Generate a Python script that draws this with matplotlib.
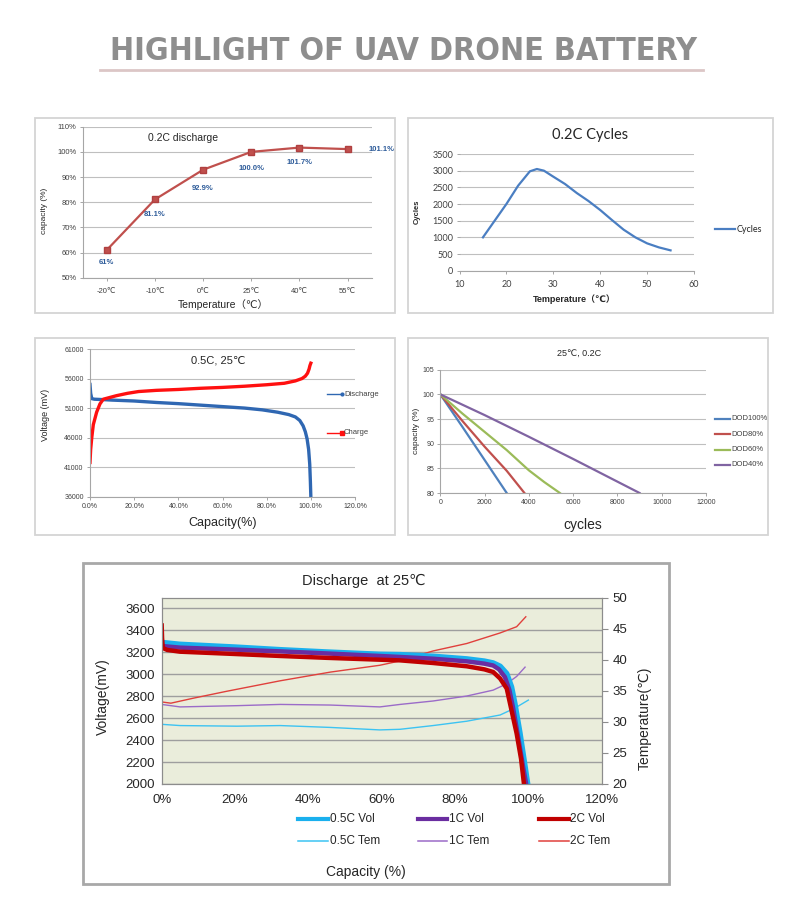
import matplotlib
matplotlib.use('Agg')
import matplotlib.pyplot as plt
from matplotlib.lines import Line2D
from matplotlib.patches import Rectangle
from matplotlib import font_manager as fm

# ---------------- data ----------------
# Panel 1: capacity vs temperature (0.2C discharge)
temp_labels1 = ['-20℃', '-10℃', '0℃', '25℃', '40℃', '55℃']
capacity1 = [61.0, 81.1, 92.9, 100.0, 101.7, 101.1]
cap_text1 = ['61%', '81.1%', '92.9%', '100.0%', '101.7%', '101.1%']

# Panel 2: cycles vs temperature
temp2 = [15, 17.5, 20, 22.5, 25, 26.5, 28, 30, 32.5, 35, 37.5, 40, 42.5, 45, 47.5, 50, 52.5, 55]
cycles2 = [1000, 1500, 2000, 2550, 2980, 3050, 3000, 2820, 2600, 2330, 2090, 1820, 1520, 1230, 1000, 820, 700, 610]

# Panel 3: 0.5C, 25C voltage curves (capacity in %)
dis_cap = [0.0, 0.3, 0.8, 2, 5, 10, 20, 30, 40, 50, 60, 70, 78, 85, 90, 93, 95, 96.5, 97.5, 98.3, 99, 99.5, 99.8, 100.0]
dis_v = [55000, 53500, 52600, 52500, 52450, 52350, 52200, 51950, 51750, 51500, 51250, 51000, 50700, 50300, 49900, 49500, 48900, 48000, 47000, 45800, 44000, 41500, 38500, 36000]
chg_cap = [0.0, 0.3, 0.8, 1.5, 3, 4.5, 6, 9, 12, 17, 22, 30, 40, 50, 60, 70, 80, 88, 93, 96, 97.5, 98.5, 99.2, 99.6, 100.0]
chg_v = [41800, 44000, 46000, 48200, 50300, 51700, 52500, 52800, 53100, 53500, 53800, 54000, 54150, 54350, 54500, 54700, 54950, 55200, 55600, 56000, 56400, 56900, 57600, 58200, 58600]

# Panel 4: capacity vs cycles for different DOD
dod_names = ['DOD100%', 'DOD80%', 'DOD60%', 'DOD40%']
dod_cycles = [
    [0, 1000, 2000, 3000],
    [0, 1000, 2000, 3000, 3800],
    [0, 1000, 2000, 3000, 4000, 4700, 5400],
    [0, 2000, 4000, 6000, 8000, 9000],
]
dod_capacity = [
    [100, 93.4, 86.7, 80],
    [100, 94.6, 89.4, 84.5, 80],
    [100, 96.1, 92.4, 88.7, 84.6, 82.2, 80],
    [100, 95.8, 91.4, 86.9, 82.3, 80],
]

# Panel 5: discharge at 25C
v05_cap = [0, 5, 20, 32.3, 45, 59.5, 65, 74, 83.2, 88, 90.4, 92.3, 94.1, 95.4, 96.3, 97.7, 99.1, 99.8]
v05_mv = [3290, 3273, 3248, 3224, 3203, 3182, 3179, 3164, 3140, 3120, 3103, 3073, 3006, 2885, 2736, 2464, 2158, 2000]
v1_cap = [0, 5, 20, 32.3, 45, 59.5, 65, 74, 83.2, 88, 90.4, 92.0, 93.6, 94.8, 95.8, 97.2, 98.6, 99.4]
v1_mv = [3258, 3243, 3225, 3209, 3190, 3167, 3158, 3142, 3118, 3097, 3080, 3045, 2975, 2860, 2700, 2430, 2150, 2000]
v2_cap = [0, 0.1, 0.3, 1.5, 5, 20, 32.3, 45, 59.5, 65, 74, 83.2, 88, 90.4, 92.3, 94.1, 95.0, 96.8, 98.0, 98.8]
v2_mv = [3445, 3330, 3240, 3222, 3206, 3185, 3167, 3150, 3133, 3127, 3103, 3073, 3045, 3021, 2961, 2870, 2733, 2460, 2230, 2000]
t05_cap = [0, 5, 20.5, 32.3, 46, 59.5, 65, 74, 83.2, 92.3, 96.3, 100.0]
t05_c = [29.6, 29.4, 29.3, 29.4, 29.1, 28.7, 28.8, 29.4, 30.1, 31.1, 32.2, 33.5]
t1_cap = [0, 5, 20.5, 32.3, 46, 59.5, 65, 74, 83.2, 90.4, 94.0, 96.8, 99.1]
t1_c = [32.8, 32.4, 32.6, 32.8, 32.7, 32.4, 32.8, 33.35, 34.15, 35.1, 36.1, 37.3, 38.8]
t2_cap = [0, 2.5, 8.6, 17.6, 32.3, 46, 59.5, 65, 74, 83.2, 92.3, 96.8, 99.3]
t2_c = [33.2, 33.0, 33.8, 34.9, 36.6, 38.0, 39.1, 39.8, 41.4, 42.6, 44.3, 45.3, 46.9]
series5_names = ['0.5C Vol', '1C Vol', '2C Vol', '0.5C Tem', '1C Tem', '2C Tem']

# ---------------- layout helpers ----------------
W, H = 800, 906
fig = plt.figure(figsize=(8, 9.06), dpi=100)
FONTS = ['Liberation Sans', 'DejaVu Sans', 'Noto Sans CJK SC']
plt.rcParams['font.family'] = FONTS


def R(x0, y0, x1, y1):
    return [x0 / W, 1 - y1 / H, (x1 - x0) / W, (y1 - y0) / H]


def FX(x):
    return x / W


def FY(y):
    return 1 - y / H


def box(x0, y0, x1, y1, ec='#D4D4D4', lw=1.3):
    fig.add_artist(Rectangle((FX(x0), FY(y1)), (x1 - x0) / W, (y1 - y0) / H,
                             transform=fig.transFigure, fill=False, ec=ec, lw=lw))


def ftext(x, y, s, **kw):
    kw.setdefault('ha', 'center')
    kw.setdefault('va', 'center')
    return fig.text(FX(x), FY(y), s, **kw)


def legline(x0, x1, y, **kw):
    fig.add_artist(Line2D([FX(x0), FX(x1)], [FY(y), FY(y)], transform=fig.transFigure, **kw))


def style_axes(ax, tick_size, tick_color='#404040', grid_color='#BFBFBF'):
    ax.set_facecolor('white')
    for s in ['top', 'right']:
        ax.spines[s].set_visible(False)
    for s in ['left', 'bottom']:
        ax.spines[s].set_color('#A6A6A6')
        ax.spines[s].set_linewidth(0.8)
    ax.yaxis.grid(True, color=grid_color, lw=0.8)
    ax.set_axisbelow(True)
    ax.tick_params(labelsize=tick_size, colors='#A6A6A6', labelcolor=tick_color,
                   length=2.5, width=0.7, pad=2)


def find_narrow():
    cands = [dict(family='Liberation Sans Narrow', weight='bold'),
             dict(family='DejaVu Sans', weight='bold', stretch='condensed')]
    for c in cands:
        try:
            p = fm.findfont(fm.FontProperties(**c), fallback_to_default=False)
            low = p.lower()
            if 'narrow' in low or 'condensed' in low:
                return c
        except Exception:
            pass
    return dict(family='Liberation Sans', weight='bold')


# ---------------- title ----------------
tprops = find_narrow()
title = ftext(404, 51, 'HIGHLIGHT OF UAV DRONE BATTERY', fontsize=27, color='#8E8E8E', **tprops)
fig.canvas.draw()
tw = title.get_window_extent().width
target_w = 588
if tw > target_w:
    title.set_fontsize(27 * target_w / tw)
legline(100, 703, 70, color='#DCC6C6', lw=2)

# ---------------- panel 1 ----------------
box(34.7, 118.3, 395, 312.7)
ax1 = fig.add_axes(R(82.7, 126.7, 371.7, 277.7))
style_axes(ax1, 5.5)
xs1 = list(range(len(capacity1)))
ax1.plot(xs1, capacity1, color='#C0504D', lw=1.6, marker='s', ms=4, mfc='#C0504D', mec='#B04040')
ax1.set_xlim(-0.5, len(capacity1) - 0.5)
ax1.set_ylim(50, 110)
ax1.set_yticks(range(50, 111, 10))
ax1.set_yticklabels([f'{v}%' for v in range(50, 111, 10)])
ax1.set_xticks(xs1)
ax1.set_xticklabels(temp_labels1)
ax1.tick_params(axis='x', pad=5)
lab_off = [(0, -12), (0, -15), (0, -19), (0, -17), (0, -15), (21, 0)]
for x, y, t, (dx, dy) in zip(xs1, capacity1, cap_text1, lab_off):
    ax1.annotate(t, (x, y), xytext=(dx, dy), textcoords='offset pixels', ha='left' if dx else 'center',
                 va='center', fontsize=5.5, fontweight='bold', color='#2E5C9A')
ftext(183, 138, '0.2C discharge', fontsize=7.5, color='#262626')
ftext(45, 211, 'capacity (%)', fontsize=6, rotation=90, color='#262626')
ftext(223, 305, 'Temperature（℃）', fontsize=7.5, color='#262626')

# ---------------- panel 2 ----------------
box(407.7, 118.3, 773, 312.7)
ax2 = fig.add_axes(R(459.5, 154, 694, 270.7))
style_axes(ax2, 6.5, tick_color='#404040')
ax2.spines['left'].set_visible(False)
ax2.plot(temp2, cycles2, color='#4A7EC2', lw=1.6)
ax2.set_xlim(10, 60)
ax2.set_ylim(0, 3500)
ax2.set_xticks(range(10, 61, 10))
ax2.set_yticks(range(0, 3501, 500))
ax2.tick_params(axis='x', pad=4)
for lab in ax2.get_xticklabels() + ax2.get_yticklabels():
    lab.set_family(['Lato', 'Liberation Sans'])
ftext(590, 135, '0.2C Cycles', fontsize=10.5, color='#262626', family=['Lato', 'Liberation Sans'])
ftext(417.7, 212, 'Cycles', fontsize=5.5, fontweight='bold', rotation=90, color='#262626')
ftext(574, 299, 'Temperature（℃）', fontsize=6.5, fontweight='bold', color='#262626')
legline(715, 735, 229.3, color='#4A7EC2', lw=1.6)
ftext(737, 229.3, 'Cycles', fontsize=6.5, ha='left', color='#262626', family=['Lato', 'Liberation Sans'])

# ---------------- panel 3 ----------------
box(34.7, 338.3, 395, 535)
ax3 = fig.add_axes(R(90, 349, 355, 496.7))
style_axes(ax3, 5)
ax3.plot([c / 100 for c in dis_cap], dis_v, color='#2F67B2', lw=2.4)
ax3.plot([c / 100 for c in chg_cap], chg_v, color='#FF1010', lw=2.4)
ax3.set_xlim(0, 1.2)
ax3.set_ylim(36000, 61000)
xt3 = [0, 0.2, 0.4, 0.6, 0.8, 1.0, 1.2]
ax3.set_xticks(xt3)
ax3.set_xticklabels([f'{v * 100:.1f}%' for v in xt3])
ax3.set_yticks(range(36000, 61001, 5000))
ftext(218, 361, '0.5C, 25℃', fontsize=8, color='#262626')
ftext(45, 415, 'Voltage (mV)', fontsize=6.5, rotation=90, color='#262626')
ftext(222.5, 523, 'Capacity(%)', fontsize=9, color='#262626')
legline(327, 342, 394, color='#2F67B2', lw=1.0, marker='o', ms=2, markevery=[1])
ftext(344, 394, 'Discharge', fontsize=5.5, ha='left', color='#404040')
legline(327, 342, 433, color='#FF1010', lw=1.0, marker='s', ms=2.5, markevery=[1])
ftext(344, 433, 'Charge', fontsize=5.5, ha='left', color='#404040')

# ---------------- panel 4 ----------------
box(407.7, 338.3, 768, 535)
ax4 = fig.add_axes(R(440.3, 369.7, 706, 493))
style_axes(ax4, 5)
dod_colors = ['#4F81BD', '#C0504D', '#9BBB59', '#8064A2']
for cyc, cap, col in zip(dod_cycles, dod_capacity, dod_colors):
    ax4.plot(cyc, cap, color=col, lw=1.6)
ax4.set_xlim(0, 12000)
ax4.set_ylim(80, 105)
ax4.set_xticks(range(0, 12001, 2000))
ax4.set_yticks(range(80, 106, 5))
ftext(579, 353, '25℃, 0.2C', fontsize=6.5, color='#262626')
ftext(416.7, 431, 'capacity (%)', fontsize=6, rotation=90, color='#262626')
ftext(583, 524.5, 'cycles', fontsize=10, color='#262626')
for name, col, yy in zip(dod_names, dod_colors, [418.7, 434, 449.7, 465]):
    legline(715, 730, yy, color=col, lw=1.6)
    ftext(731, yy, name, fontsize=5.5, ha='left', color='#404040')

# ---------------- panel 5 ----------------
box(83, 563, 669, 883.5, ec='#A8A8A8', lw=2)
ax5 = fig.add_axes(R(161.7, 597.5, 601.7, 784))
ax5.set_facecolor('#EAEDDB')
for s in ax5.spines.values():
    s.set_color('#8C8C8C')
    s.set_linewidth(0.8)
ax5.yaxis.grid(True, color='#9E9E9E', lw=1.0)
ax5.set_axisbelow(True)
ax5.set_xlim(0, 1.2)
ax5.set_ylim(2000, 3700)
ax5.set_yticks(range(2000, 3601, 200))
xt5 = [0, 0.2, 0.4, 0.6, 0.8, 1.0, 1.2]
ax5.set_xticks(xt5)
ax5.set_xticklabels([f'{int(round(v * 100))}%' for v in xt5])
ax5.tick_params(labelsize=9.5, colors='#8C8C8C', labelcolor='#262626', length=0, pad=7)
ax5.tick_params(axis='y', length=0, pad=5)
ax6 = ax5.twinx()
ax6.set_ylim(20, 50)
ax6.set_yticks(range(20, 51, 5))
ax6.tick_params(labelsize=9.5, colors='#8C8C8C', labelcolor='#262626', length=4, width=0.8, pad=4)
for s in ax6.spines.values():
    s.set_color('#8C8C8C')
    s.set_linewidth(0.8)
ax6.set_zorder(ax5.get_zorder() + 1)
ax6.patch.set_visible(False)

ax6.plot([c / 100 for c in t05_cap], t05_c, color='#3CC3F2', lw=1.0)
ax6.plot([c / 100 for c in t1_cap], t1_c, color='#9B6BC8', lw=1.0)
ax6.plot([c / 100 for c in t2_cap], t2_c, color='#E0403C', lw=1.0)
vt = ax5.transData
ax6.plot([c / 100 for c in v05_cap], v05_mv, color='#1AB0EE', lw=4.0, transform=vt)
ax6.plot([c / 100 for c in v1_cap], v1_mv, color='#6A2DA0', lw=3.2, transform=vt)
ax6.plot([c / 100 for c in v2_cap], v2_mv, color='#C00000', lw=3.2, transform=vt)

ftext(364, 581, 'Discharge  at 25℃', fontsize=10.5, color='#262626')
ftext(103, 697, 'Voltage(mV)', fontsize=10, rotation=90, color='#262626')
ftext(645, 718, 'Temperature(℃)', fontsize=10, rotation=90, color='#262626')
ftext(366, 872, 'Capacity (%)', fontsize=10, color='#262626')

leg_cols = [(298, 328), (418, 447), (539, 569)]
vol_colors = ['#1AB0EE', '#6A2DA0', '#C00000']
tem_colors = ['#3CC3F2', '#9B6BC8', '#E0403C']
for i, (x0, x1) in enumerate(leg_cols):
    legline(x0, x1, 818.6, color=vol_colors[i], lw=3)
    ftext(x1 + 1.5, 818.6, series5_names[i], fontsize=8.5, ha='left', color='#262626')
    legline(x0, x1, 841.4, color=tem_colors[i], lw=1.1)
    ftext(x1 + 1.5, 841.4, series5_names[i + 3], fontsize=8.5, ha='left', color='#262626')

fig.savefig('out.png', dpi=100, facecolor='white')
